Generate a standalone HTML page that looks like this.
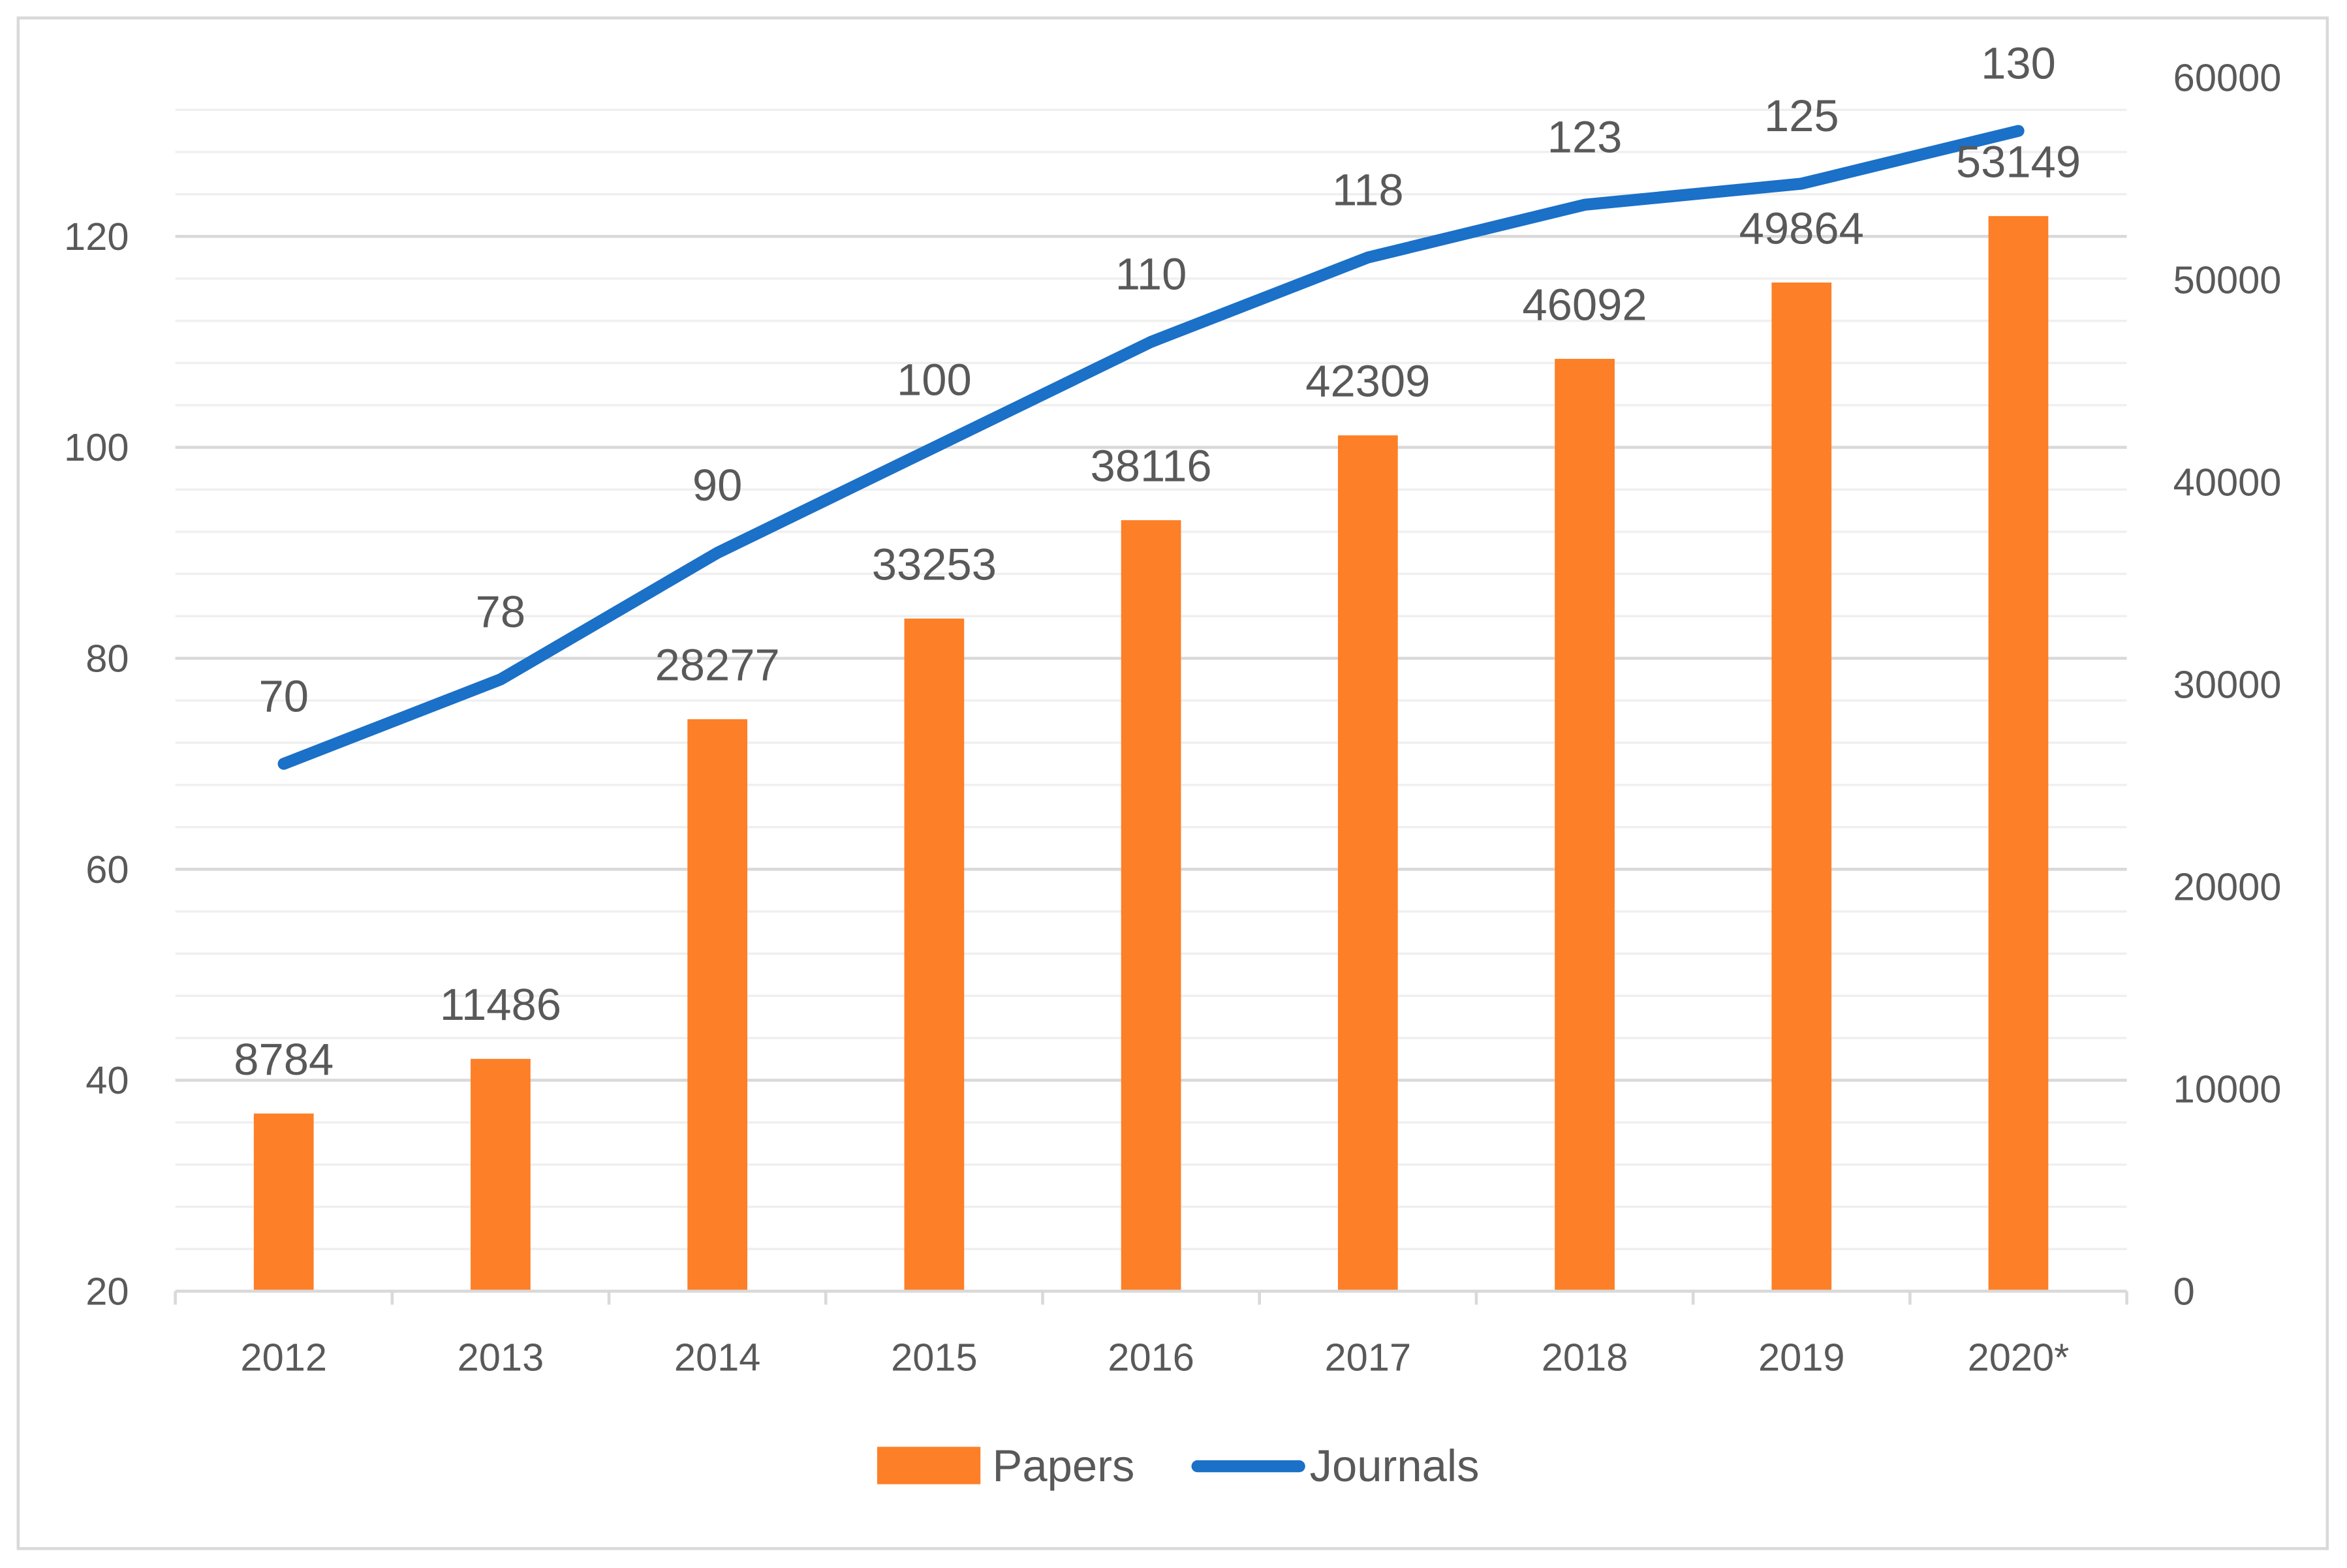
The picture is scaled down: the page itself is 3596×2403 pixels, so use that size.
<!DOCTYPE html>
<html><head><meta charset="utf-8"><style>
html,body{margin:0;padding:0;background:#fff;}
svg{display:block;}
text{font-family:"Liberation Sans",sans-serif;}
</style></head><body>
<svg id="chart" width="3596" height="2403" viewBox="0 0 1568 1048" xmlns="http://www.w3.org/2000/svg">
<rect x="12" y="12" width="1543" height="1023" fill="#fff" stroke="#d9d9d9" stroke-width="2"/>
<g id="grid"></g><g id="bars"></g><g id="line"></g><g id="labels"></g><g id="axes"></g>
<g>
<rect x="586" y="967" width="69" height="25" fill="#fd7f27"/>
<text x="663" y="990" font-size="30" fill="#595959">Papers</text>
<line x1="800" y1="980" x2="868" y2="980" stroke="#1b70c7" stroke-width="8" stroke-linecap="round"/>
<text x="875" y="990" font-size="30" fill="#595959">Journals</text>
</g>
</svg>
<script>
const categories=["2012","2013","2014","2015","2016","2017","2018","2019","2020*"];
const papers=[8784,11486,28277,33253,38116,42309,46092,49864,53149];
const journals=[70,78,90,100,110,118,123,125,130];
const leftTicks=[20,40,60,80,100,120];
const rightTicks=[0,10000,20000,30000,40000,50000,60000];
const NS="http://www.w3.org/2000/svg";
const X0=117,X1=1421,Y0=863;
const yL=v=>Y0-(v-20)*141/20;
const yR=v=>Y0-v*135.2/10000;
const band=(X1-X0)/categories.length;
const xC=i=>X0+band*(i+0.5);
function mk(tag,attrs,parent,txt){const e=document.createElementNS(NS,tag);for(const k in attrs)e.setAttribute(k,attrs[k]);if(txt!==undefined)e.textContent=txt;document.getElementById(parent).appendChild(e);return e;}
for(let v=24;v<=132;v+=4){
  const major=(v-20)%20===0;
  const g=mk("line",{x1:X0,x2:X1,y1:yL(v),y2:yL(v),stroke:major?"#d9d9d9":"#efefef","stroke-width":major?2:1.5},"grid");
  
  
}
const ax=mk("line",{x1:X0,x2:X1,y1:Y0,y2:Y0,stroke:"#d9d9d9","stroke-width":2},"axes");


for(let i=0;i<=categories.length;i++){
  const t=mk("line",{x1:X0+band*i,x2:X0+band*i,y1:Y0,y2:Y0+9,stroke:"#d9d9d9","stroke-width":2},"axes");
  
  
}
categories.forEach((c,i)=>{
  const t=mk("text",{x:xC(i),y:916,"font-size":26,fill:"#595959","text-anchor":"middle"},"axes",c);
  
  
});
leftTicks.forEach(v=>{
  const t=mk("text",{x:86,y:yL(v)+9,"font-size":26,fill:"#595959","text-anchor":"end"},"axes",String(v));
  
  
});
rightTicks.forEach(v=>{
  const t=mk("text",{x:1452,y:yR(v)+9,"font-size":26,fill:"#595959"},"axes",String(v));
  
  
});
papers.forEach((p,i)=>{
  const b=mk("rect",{x:xC(i)-20,y:yR(p),width:40,height:Y0-yR(p),fill:"#fd7f27"},"bars");
  
  
  const l=mk("text",{x:xC(i),y:yR(p)-26,"font-size":30,fill:"#595959","text-anchor":"middle"},"labels",String(p));
  
  
});
const pts=journals.map((v,i)=>xC(i)+","+yL(v)).join(" ");
const pl=mk("polyline",{points:pts,fill:"none",stroke:"#1b70c7","stroke-width":8,"stroke-linejoin":"round","stroke-linecap":"round"},"line");


journals.forEach((v,i)=>{
  const l=mk("text",{x:xC(i),y:yL(v)-35,"font-size":30,fill:"#595959","text-anchor":"middle"},"labels",String(v));
  
  
});
</script>
</body></html>
